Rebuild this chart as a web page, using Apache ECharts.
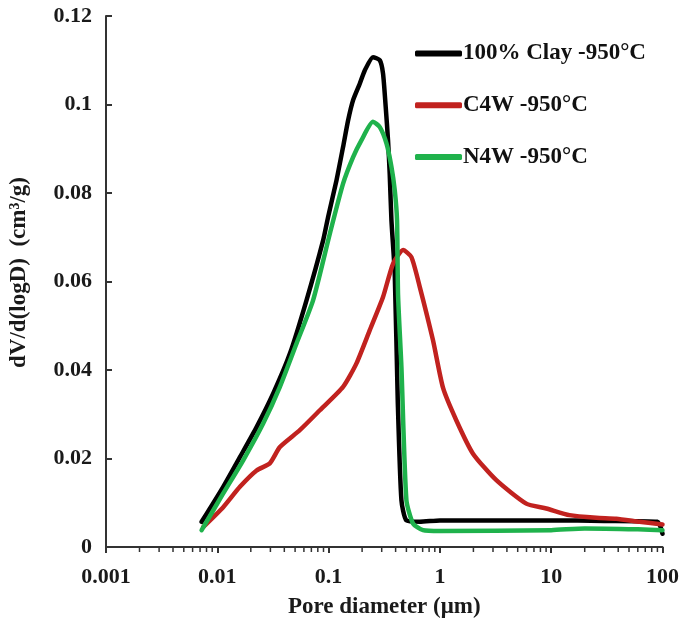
<!DOCTYPE html>
<html>
<head>
<meta charset="utf-8">
<script src="https://cdn.jsdelivr.net/npm/echarts@6/dist/echarts.min.js"></script>
<style>html,body{margin:0;padding:0;background:#fff}#c{width:682px;height:626px}</style>
</head>
<body>
<div id="c"></div>
<script>
// ---- data ----
const seriesNames = ['100% Clay -950°C', 'C4W -950°C', 'N4W -950°C'];

const clayX = [0.00723, 0.0113, 0.01596, 0.02255, 0.0318, 0.0449, 0.0634, 0.0893, 0.099, 0.1178, 0.1349, 0.1496, 0.166, 0.1905, 0.2113, 0.2505, 0.2885, 0.3083, 0.326, 0.342, 0.354, 0.367, 0.393, 0.418, 0.451, 0.500, 0.659, 1, 3, 10, 30, 90, 100];
const clayY = [0.0057, 0.0136, 0.0203, 0.0271, 0.0347, 0.0437, 0.0558, 0.0693, 0.0746, 0.0829, 0.0904, 0.0964, 0.1010, 0.1047, 0.1077, 0.1107, 0.1100, 0.1070, 0.0994, 0.0919, 0.0844, 0.0738, 0.0618, 0.0332, 0.0106, 0.0060, 0.0057, 0.0060, 0.0060, 0.0060, 0.0059, 0.0057, 0.0030];

const c4wX = [0.00746, 0.0113, 0.01596, 0.02255, 0.02964, 0.0365, 0.0551, 0.0834, 0.1349, 0.178, 0.2344, 0.3083, 0.379, 0.467, 0.5546, 0.659, 0.867, 1.066, 1.406, 1.983, 3.214, 5.97, 9.04, 14.6, 25.4, 38.4, 62.2, 100];
const c4wY = [0.0045, 0.0090, 0.0136, 0.0173, 0.0189, 0.0226, 0.0264, 0.0309, 0.0362, 0.0415, 0.0490, 0.0565, 0.0640, 0.0671, 0.0655, 0.0588, 0.0467, 0.0360, 0.0286, 0.0211, 0.0151, 0.0098, 0.0087, 0.0072, 0.0066, 0.0064, 0.0057, 0.0051];

const n4wX = [0.00723, 0.0113, 0.01708, 0.02582, 0.0365, 0.0515, 0.0726, 0.1026, 0.1349, 0.166, 0.197, 0.2505, 0.2885, 0.331, 0.367, 0.393, 0.412, 0.4207, 0.451, 0.500, 0.574, 0.705, 1, 10, 20, 60, 100];
const n4wY = [0.0038, 0.0121, 0.0196, 0.0279, 0.0362, 0.0460, 0.0558, 0.0708, 0.0821, 0.0881, 0.0919, 0.0961, 0.0949, 0.0912, 0.0859, 0.0806, 0.0738, 0.0570, 0.0407, 0.0106, 0.0053, 0.0038, 0.0036, 0.0038, 0.0042, 0.0040, 0.0038];

const xDecades = [0.001, 0.01, 0.1, 1, 10];
const minorSteps = [2, 3, 4, 5, 6, 7, 8, 9];

// ---- build ----
const zip = (xs, ys) => xs.map((x, i) => [x, ys[i]]);
const minorTicks = [];
xDecades.forEach(d => minorSteps.forEach(m => minorTicks.push([d * m, 0])));

const FONT = 'Liberation Serif';
const txt = (size) => ({fontFamily: FONT, fontWeight: 'bold', fontSize: size, color: '#1a1a1a'});

const chart = echarts.init(document.getElementById('c'), null, {renderer: 'canvas'});
const lineSeries = (name, data, color) => ({
  name, type: 'line', data, symbol: 'none', smooth: 0.2,
  lineStyle: {color, width: 4.5, cap: 'round', join: 'round'},
  itemStyle: {color}, z: 3
});
chart.setOption({
  animation: false,
  backgroundColor: '#fff',
  grid: {left: 106, right: 19, top: 16, bottom: 79, containLabel: false},
  legend: {
    orient: 'vertical', left: 410, top: 37, itemGap: 28.7,
    icon: 'roundRect', itemWidth: 47, itemHeight: 6,
    data: seriesNames,
    textStyle: Object.assign(txt(23), {color: '#111', padding: [0, 0, 0, -4]})
  },
  xAxis: {
    type: 'log', logBase: 10, min: 0.001, max: 100, splitNumber: 5,
    name: 'Pore diameter (μm)', nameLocation: 'middle', nameGap: 49,
    nameTextStyle: txt(23),
    axisLine: {lineStyle: {color: '#333', width: 2}},
    axisTick: {inside: false, length: 6, lineStyle: {color: '#333', width: 2}},
    axisLabel: Object.assign(txt(22), {margin: 19, formatter: v => String(Number(v.toPrecision(1)))}),
    splitLine: {show: false}
  },
  yAxis: {
    type: 'value', min: 0, max: 0.12, interval: 0.02,
    name: 'dV/d(logD)  (cm³/g)', nameLocation: 'middle', nameGap: 75,
    nameTextStyle: Object.assign(txt(23), {padding: [0, 0, 0, 18]}),
    axisLine: {show: true, lineStyle: {color: '#333', width: 2}},
    axisTick: {show: true, inside: true, length: 6, lineStyle: {color: '#333', width: 2}},
    axisLabel: Object.assign(txt(22), {margin: 14, formatter: v => String(Number(v.toFixed(2)))}),
    splitLine: {show: false}
  },
  series: [
    lineSeries(seriesNames[0], zip(clayX, clayY), '#000000'),
    lineSeries(seriesNames[1], zip(c4wX, c4wY), '#c1221f'),
    lineSeries(seriesNames[2], zip(n4wX, n4wY), '#1fb24c'),
    {
      type: 'custom', silent: true, clip: false, z: 1,
      data: minorTicks,
      renderItem: (params, api) => {
        const p = api.coord([api.value(0), 0]);
        return {type: 'line', shape: {x1: p[0], y1: p[1], x2: p[0], y2: p[1] + 5},
                style: {stroke: '#333', lineWidth: 1.5}};
      }
    }
  ]
});
</script>
</body>
</html>
